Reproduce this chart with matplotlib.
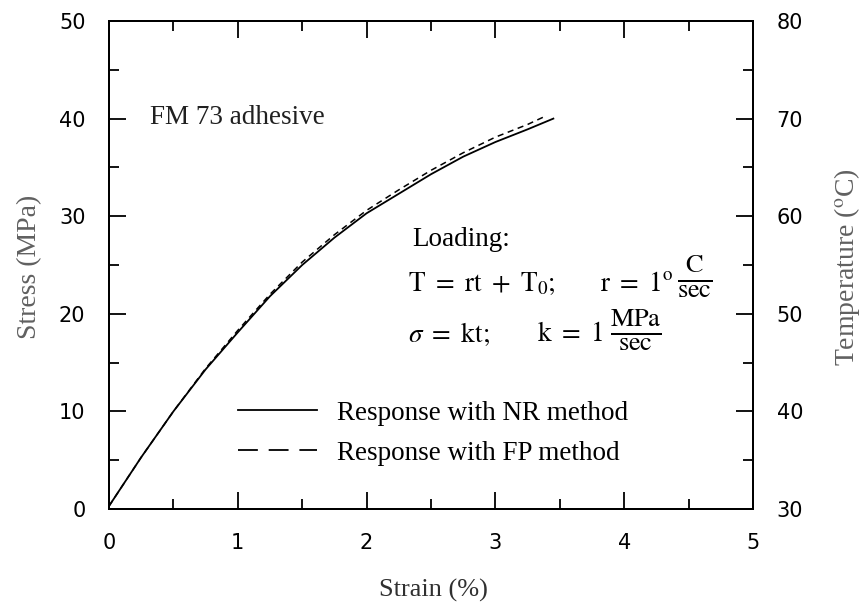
import matplotlib
matplotlib.use("Agg")
import matplotlib.pyplot as plt
from matplotlib.lines import Line2D
from matplotlib.ticker import MultipleLocator

# Data
strain_nr = [0.0, 0.25, 0.5, 0.75, 1.0, 1.25, 1.5, 1.75, 2.0, 2.25, 2.5, 2.75, 3.0, 3.25, 3.45]
stress_nr = [0.3, 5.3, 10.0, 14.3, 18.1, 21.8, 25.0, 27.8, 30.3, 32.3, 34.3, 36.1, 37.6, 38.9, 40.0]
strain_fp = [0.0, 0.25, 0.5, 0.75, 1.0, 1.25, 1.5, 1.75, 2.0, 2.25, 2.5, 2.75, 3.0, 3.25, 3.38]
stress_fp = [0.3, 5.3, 10.0, 14.4, 18.3, 22.0, 25.3, 28.1, 30.6, 32.7, 34.7, 36.5, 38.1, 39.4, 40.2]

xlim = (0, 5)
ylim = (0, 50)
temp_lim = (30, 80)
label_nr = "Response with NR method"
label_fp = "Response with FP method"

serif = "Liberation Serif"
plt.rcParams['mathtext.fontset'] = 'stix'

fig = plt.figure(figsize=(8.64, 6.07), dpi=100)
ax = fig.add_axes([109/864, 1-509/607, 644/864, 488/607])

ax.plot(strain_nr, stress_nr, color='black', lw=1.3)
ax.plot(strain_fp, stress_fp, color='black', lw=1.1, linestyle=(0, (4, 3)))

ax.set_xlim(*xlim)
ax.set_ylim(*ylim)
ax.xaxis.set_major_locator(MultipleLocator(1))
ax.xaxis.set_minor_locator(MultipleLocator(0.5))
ax.yaxis.set_major_locator(MultipleLocator(10))
ax.yaxis.set_minor_locator(MultipleLocator(5))
ax.tick_params(which='both', direction='in', top=True, right=False, width=1.3)
ax.tick_params(which='major', length=12, labelsize=15, pad=17)
ax.tick_params(which='minor', length=7.5)
for s in ax.spines.values():
    s.set_linewidth(1.4)

ax2 = ax.twinx()
ax2.set_ylim(*temp_lim)
ax2.yaxis.set_major_locator(MultipleLocator(10))
ax2.yaxis.set_minor_locator(MultipleLocator(5))
ax2.tick_params(which='both', direction='in', width=1.3)
ax2.tick_params(which='major', length=12, labelsize=15, pad=17)
ax2.tick_params(which='minor', length=7.5)
for s in ax2.spines.values():
    s.set_linewidth(1.4)

gray = '#606060'
fig.text(30/864, 1-267/607, "Stress (MPa)", rotation=90, ha='center', va='center',
         fontsize=20, family=serif, color=gray)
fig.text(847/864, 1-267/607, r"Temperature ($^{\mathrm{o}}$C)", rotation=90, ha='center', va='center',
         fontsize=20, family=serif, color=gray)
fig.text(433/864, 1-590/607, "Strain (%)", ha='center', va='center',
         fontsize=19, family=serif, color='#303030')

def dc(x, y):
    return ((x-109)/644, (509-y)/488)

fs = 19.5
ax.text(*dc(150, 118), "FM 73 adhesive", transform=ax.transAxes, ha='left', va='center',
        fontsize=fs, family=serif, color='#202020')
ax.text(*dc(412, 240), "Loading:", transform=ax.transAxes, ha='left', va='center',
        fontsize=fs, family=serif)
ax.text(*dc(408, 284), r"$\mathrm{T\ =\ rt\ +\ T_0;}$", transform=ax.transAxes, ha='left', va='center',
        fontsize=fs)
ax.text(*dc(600, 284), r"$\mathrm{r\ =\ 1^{o}}$", transform=ax.transAxes, ha='left', va='center',
        fontsize=fs)
ax.text(*dc(695, 276), r"$\mathrm{\frac{C}{sec}}$", transform=ax.transAxes, ha='center', va='center',
        fontsize=27)
ax.text(*dc(408, 334), r"$\sigma\ \mathrm{=\ kt;}$", transform=ax.transAxes, ha='left', va='center',
        fontsize=fs)
ax.text(*dc(537, 334), r"$\mathrm{k\ =\ 1}$", transform=ax.transAxes, ha='left', va='center',
        fontsize=fs)
ax.text(*dc(636, 330), r"$\mathrm{\frac{MPa}{sec}}$", transform=ax.transAxes, ha='center', va='center',
        fontsize=27)

handles = [Line2D([], [], color='black', lw=1.3),
           Line2D([], [], color='black', lw=1.3, linestyle=(0, (11, 6)))]
ax2.legend(handles, [label_nr, label_fp], loc='upper left',
           bbox_to_anchor=(0.2003, 0.222), frameon=False, borderpad=0, borderaxespad=0,
           handlelength=2.9, handletextpad=0.75, labelspacing=0.55,
           prop={'family': serif, 'size': fs})

fig.savefig("out.png", dpi=100)
